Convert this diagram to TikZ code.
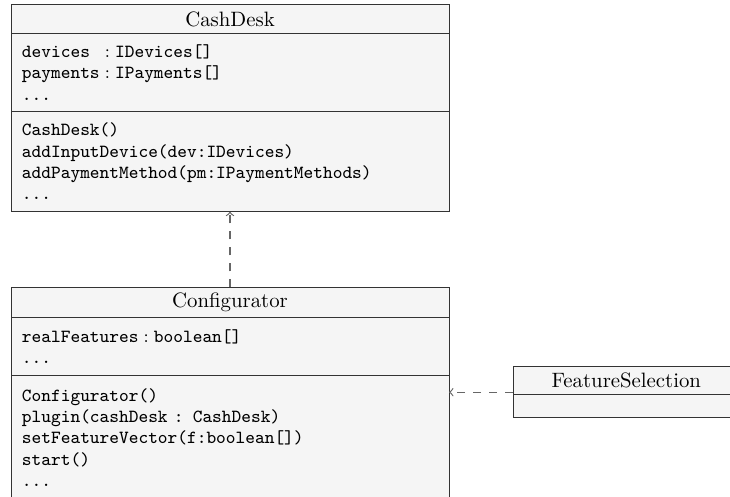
\documentclass[tikz,border=0pt]{standalone}
\usepackage{amsmath}
\usepackage{tikz}
\usetikzlibrary{arrows,positioning,calc}
\tikzstyle{cHead}=[draw=black!80, fill=black!4, line width=0.5pt, outer sep=0pt, minimum width=219pt, inner sep=0pt, font=\fontsize{10.4}{12.5}\selectfont]
\tikzstyle{cPart}=[draw=black!80, fill=black!4, line width=0.5pt, outer sep=0pt, text width=208pt, inner xsep=5.5pt, inner ysep=0pt, align=left, font=\ttfamily\fontsize{9.25}{10.65}\selectfont]
\tikzstyle{eDep}=[draw=black!60, line width=0.6pt, dash pattern=on 4.2pt off 3.8pt, ->]

\begin{document}
\begin{tikzpicture}[x=0.5pt,y=-0.5pt]%[one unit = one pixel]

                \useasboundingbox (0,0) rectangle (730,497);

                % CashDesk
                \draw (230,4.7) node[cHead, anchor=north, minimum height=14.3pt] (cdHead) {CashDesk};
                \node[cPart, below=0pt of cdHead, minimum height=39pt] (cdAttr)
                    {devices\hphantom{s}${}:{}$IDevices[]\\payments${}:{}$IPayments[]\\...};
                \node[cPart, below=0pt of cdAttr, minimum height=50.2pt] (cdMeth)
                    {CashDesk()\\addInputDevice(dev:IDevices)\\addPaymentMethod(pm:IPaymentMethods)\\...};

                % Configurator
                \draw (230,287.3) node[cHead, anchor=north, minimum height=15.35pt] (cfHead) {Configurator};
                \node[cPart, below=0pt of cfHead, minimum height=28.85pt] (cfAttr)
                    {realFeatures${}:{}$boolean[]\\...};
                \node[cPart, below=0pt of cfAttr, minimum height=61.7pt] (cfMeth)
                    {Configurator()\\plugin(cashDesk : CashDesk)\\setFeatureVector(f:boolean[])\\start()\\...};

                % FeatureSelection
                \draw (513,366.7) node[cHead, anchor=north west, minimum width=113.3pt, minimum height=13.8pt] (fsHead) {FeatureSelection};
                \node[cHead, below=0pt of fsHead, minimum width=113.3pt, minimum height=11.7pt] (fsBody) {};
                \coordinate (fsWest) at ($(fsHead.north west)!0.5!(fsBody.south west)$);

                \path
                    (cfHead) edge[eDep] (cdMeth)
                    (fsWest) edge[eDep] (fsWest -| cfMeth.east)
                ;

        \end{tikzpicture}
\end{document}
